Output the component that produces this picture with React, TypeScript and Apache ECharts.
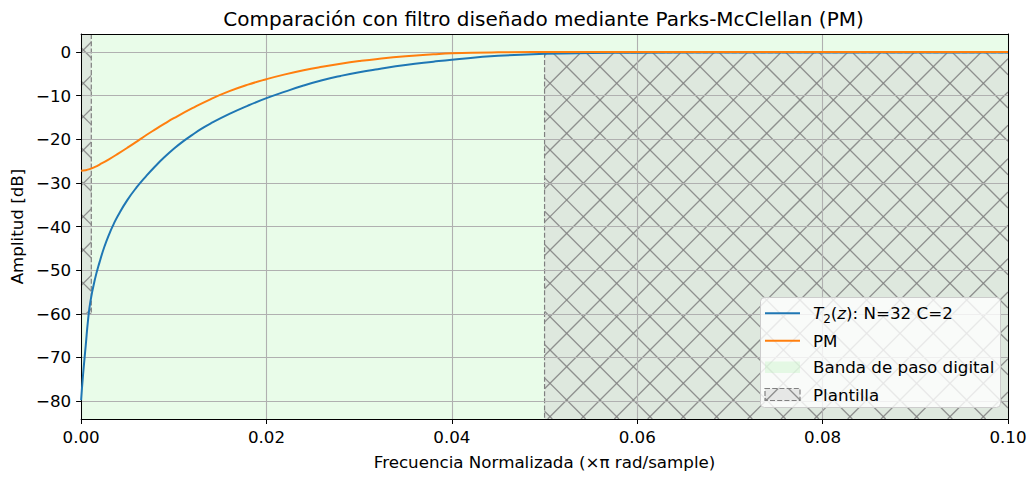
import React, { useEffect, useRef } from "react";
import * as echarts from "echarts";

// ---------- data ----------
const freqT2 = [
  0, 0.0002, 0.0005, 0.00075, 0.001, 0.0015, 0.002, 0.0025, 0.003, 0.0035, 0.004,
  0.005, 0.006, 0.007, 0.008, 0.009, 0.01, 0.011, 0.012, 0.013, 0.014, 0.016, 0.018,
  0.02, 0.022, 0.024, 0.026, 0.028, 0.03, 0.032, 0.035, 0.038, 0.04, 0.045, 0.05,
  0.055, 0.06, 0.07, 0.08, 0.09, 0.1,
];
const magT2 = [
  -79.8, -74.2, -67.2, -61.4, -57.2, -52.0, -48.1, -44.7, -41.9, -39.5, -37.4,
  -33.9, -31.0, -28.5, -26.2, -24.1, -22.2, -20.5, -19.0, -17.6, -16.35, -14.2, -12.3,
  -10.6, -9.1, -7.7, -6.5, -5.5, -4.65, -3.95, -3.0, -2.25, -1.8, -0.9, -0.45,
  -0.26, -0.18, -0.15, -0.15, -0.15, -0.15,
];
const freqPM = [
  0, 0.0005, 0.001, 0.0015, 0.002, 0.003, 0.004, 0.005, 0.006, 0.007, 0.008, 0.009,
  0.01, 0.012, 0.014, 0.016, 0.018, 0.02, 0.022, 0.024, 0.026, 0.028, 0.03, 0.032,
  0.035, 0.038, 0.04, 0.045, 0.05, 0.06, 0.07, 0.08, 0.09, 0.1,
];
const magPM = [
  -27.2, -27.1, -26.8, -26.35, -25.8, -24.6, -23.3, -21.95, -20.55, -19.1, -17.75, -16.45,
  -15.2, -12.9, -10.8, -9.0, -7.5, -6.25, -5.15, -4.2, -3.4, -2.7, -2.1, -1.6,
  -1.0, -0.55, -0.32, -0.1, -0.03, 0, 0, 0, 0, 0,
];
// Banda de paso digital: [f inicio, f fin]
const passBand = [[0, 0.1]];
// Plantilla: [f0, f1, dB inferior, dB superior]
const templateRects = [
  [0, 0.0011, -60, 10],
  [0.05, 0.1, -120, -0.2],
];
const yTicks = [-80, -70, -60, -50, -40, -30, -20, -10, 0];
const xRange = [0, 0.1];
const yRange = [-84.1, 4.1];

const FONT = "'DejaVu Sans', 'Liberation Sans', sans-serif";
const FS = 16.7;
const BLUE = "#1f77b4";
const ORANGE = "#ff7f0e";
const GREEN_FILL = "rgba(144,238,144,0.2)";
const TPL_FILL = "rgba(211,211,211,0.5)";
const HATCH = "rgba(128,128,128,0.85)";
const HATCH_STEP = 100 / 3;

function hatchSegs(x0: number, y0: number, x1: number, y1: number, s: number) {
  const segs: number[][] = [];
  // "\" lines: x - y = c
  for (let k = Math.ceil((x0 - y1) / s); k <= Math.floor((x1 - y0) / s); k++) {
    const c = k * s;
    const xa = Math.max(x0, y0 + c);
    const xb = Math.min(x1, y1 + c);
    if (xb > xa) segs.push([xa, xa - c, xb, xb - c]);
  }
  // "/" lines: x + y = c
  for (let k = Math.ceil((x0 + y0) / s); k <= Math.floor((x1 + y1) / s); k++) {
    const c = k * s;
    const xa = Math.max(x0, c - y1);
    const xb = Math.min(x1, c - y0);
    if (xb > xa) segs.push([xa, c - xa, xb, c - xb]);
  }
  return segs;
}

function hatchElements(x0: number, y0: number, x1: number, y1: number, z?: number) {
  return hatchSegs(x0, y0, x1, y1, HATCH_STEP).map((s) => {
    const el: any = {
      type: "line",
      shape: { x1: s[0], y1: s[1], x2: s[2], y2: s[3] },
      style: { stroke: HATCH, lineWidth: 1.3, fill: null },
      silent: true,
    };
    if (z != null) el.z = z;
    return el;
  });
}

function renderTemplate(params: any, api: any) {
  const cs = params.coordSys;
  const a = api.coord([api.value(0), api.value(3)]);
  const b = api.coord([api.value(1), api.value(2)]);
  const rx0 = Math.min(a[0], b[0]);
  const rx1 = Math.max(a[0], b[0]);
  const ry0 = Math.min(a[1], b[1]);
  const ry1 = Math.max(a[1], b[1]);
  const L = cs.x, R = cs.x + cs.width, T = cs.y, B = cs.y + cs.height;
  const x0 = Math.max(rx0, L), x1 = Math.min(rx1, R);
  const y0 = Math.max(ry0, T), y1 = Math.min(ry1, B);
  if (x1 <= x0 || y1 <= y0) return null;
  const children: any[] = [
    {
      type: "rect",
      shape: { x: x0, y: y0, width: x1 - x0, height: y1 - y0 },
      style: { fill: TPL_FILL },
    },
    ...hatchElements(x0, y0, x1, y1),
  ];
  const dashStyle = { stroke: "#808080", lineWidth: 1.2, lineDash: [5, 2.2], fill: null };
  if (rx0 > L + 0.5) children.push({ type: "line", shape: { x1: rx0, y1: y0, x2: rx0, y2: y1 }, style: dashStyle });
  if (rx1 < R - 0.5) children.push({ type: "line", shape: { x1: rx1, y1: y0, x2: rx1, y2: y1 }, style: dashStyle });
  if (ry0 > T + 0.5) children.push({ type: "line", shape: { x1: x0, y1: ry0, x2: x1, y2: ry0 }, style: dashStyle });
  if (ry1 < B - 0.5) children.push({ type: "line", shape: { x1: x0, y1: ry1, x2: x1, y2: ry1 }, style: dashStyle });
  return { type: "group", children };
}

function renderBand(params: any, api: any) {
  const cs = params.coordSys;
  const a = api.coord([api.value(0), 0]);
  const b = api.coord([api.value(1), 0]);
  const x0 = Math.max(Math.min(a[0], b[0]), cs.x);
  const x1 = Math.min(Math.max(a[0], b[0]), cs.x + cs.width);
  return {
    type: "rect",
    shape: { x: x0, y: cs.y, width: x1 - x0, height: cs.height },
    style: { fill: GREEN_FILL },
  };
}

function fmtY(v: number) {
  return v < 0 ? "\u2212" + Math.abs(v) : String(v);
}

function buildLegend() {
  const Z = 100;
  const bx = 760.5, by = 297.5, bw = 240, bh = 110;
  const lx0 = 765, lx1 = 800, tx = 813;
  const rows = [313.3, 340.7, 367.3, 394.5];
  const txt = (y: number, text: string) => ({
    type: "text",
    z: Z + 2,
    x: tx,
    y,
    style: { text, font: `${FS}px ${FONT}`, fill: "#000", verticalAlign: "middle" },
  });
  const els: any[] = [
    {
      type: "rect",
      z: Z,
      shape: { x: bx, y: by, width: bw, height: bh, r: 4 },
      style: { fill: "rgba(255,255,255,0.8)", stroke: "#cccccc", lineWidth: 1 },
    },
    { type: "line", z: Z + 1, shape: { x1: lx0, y1: rows[0], x2: lx1, y2: rows[0] }, style: { stroke: BLUE, lineWidth: 2 } },
    { type: "line", z: Z + 1, shape: { x1: lx0, y1: rows[1], x2: lx1, y2: rows[1] }, style: { stroke: ORANGE, lineWidth: 2 } },
    {
      type: "rect",
      z: Z + 1,
      shape: { x: lx0, y: rows[2] - 5.8, width: lx1 - lx0, height: 11.6 },
      style: { fill: GREEN_FILL },
    },
    {
      type: "rect",
      z: Z + 1,
      shape: { x: lx0, y: rows[3] - 6, width: lx1 - lx0, height: 12 },
      style: { fill: TPL_FILL },
    },
    ...hatchElements(lx0, rows[3] - 6, lx1, rows[3] + 6, Z + 2),
    {
      type: "rect",
      z: Z + 3,
      shape: { x: lx0, y: rows[3] - 6, width: lx1 - lx0, height: 12 },
      style: { fill: null, stroke: "#808080", lineWidth: 1.2, lineDash: [5, 2.2] },
    },
    {
      type: "text",
      z: Z + 2,
      x: tx,
      y: rows[0],
      style: {
        text: "{it|T}{sub|2}({it|z}): N=32 C=2",
        font: `${FS}px ${FONT}`,
        fill: "#000",
        verticalAlign: "middle",
        rich: {
          it: { fontStyle: "italic", fontSize: FS, fontFamily: FONT, fill: "#000", lineHeight: 24, verticalAlign: "middle" },
          sub: { fontSize: 12, fontFamily: FONT, fill: "#000", lineHeight: 12, verticalAlign: "bottom" },
        },
      },
    },
    txt(rows[1], "PM"),
    txt(rows[2], "Banda de paso digital"),
    txt(rows[3], "Plantilla"),
  ];
  return els;
}

export default function App() {
  const ref = useRef<HTMLDivElement>(null);
  useEffect(() => {
    if (!ref.current) return;
    const chart = echarts.init(ref.current, undefined, { renderer: "svg" });
    const axisText = { fontFamily: FONT, fontSize: FS, color: "#000" };
    const option: any = {
      animation: false,
      backgroundColor: "#fff",
      grid: { left: 79, right: 28, top: 34, bottom: 61, containLabel: false },
      xAxis: [
        {
          type: "value",
          min: xRange[0],
          max: xRange[1],
          interval: 0.02,
          z: 2,
          name: "Frecuencia Normalizada (\u00d7\u03c0 rad/sample)",
          nameLocation: "middle",
          nameGap: 34,
          nameTextStyle: axisText,
          axisLine: { show: true, onZero: false, lineStyle: { color: "#000", width: 1 } },
          axisTick: { show: true, inside: false, length: 5, lineStyle: { color: "#000", width: 1 } },
          axisLabel: { ...axisText, margin: 9, formatter: (v: number) => v.toFixed(2) },
          splitLine: { show: true, lineStyle: { color: "#b0b0b0", width: 1.1 } },
        },
        {
          type: "value",
          position: "top",
          min: xRange[0],
          max: xRange[1],
          z: 5,
          axisLine: { show: true, onZero: false, lineStyle: { color: "#000", width: 1 } },
          axisTick: { show: false },
          axisLabel: { show: false },
          splitLine: { show: false },
        },
      ],
      yAxis: [
        {
          type: "value",
          min: yRange[0],
          max: yRange[1],
          z: 2,
          name: "Amplitud [dB]",
          nameLocation: "middle",
          nameGap: 52,
          nameTextStyle: axisText,
          axisLine: { show: true, onZero: false, lineStyle: { color: "#000", width: 1 } },
          axisTick: { show: true, inside: false, length: 5, customValues: yTicks, lineStyle: { color: "#000", width: 1 } },
          axisLabel: { ...axisText, margin: 10, customValues: yTicks, formatter: fmtY },
          splitLine: { show: true, lineStyle: { color: "#b0b0b0", width: 1.1 } },
        },
        {
          type: "value",
          position: "right",
          min: yRange[0],
          max: yRange[1],
          z: 5,
          axisLine: { show: true, onZero: false, lineStyle: { color: "#000", width: 1 } },
          axisTick: { show: false },
          axisLabel: { show: false },
          splitLine: { show: false },
        },
      ],
      series: [
        {
          name: "Banda de paso digital",
          type: "custom",
          z: 0,
          silent: true,
          renderItem: renderBand,
          encode: { x: [0, 1] },
          data: passBand,
        },
        {
          name: "Plantilla",
          type: "custom",
          z: 1,
          silent: true,
          renderItem: renderTemplate,
          encode: { x: [0, 1], y: [2, 3] },
          data: templateRects,
        },
        {
          name: "T2(z): N=32 C=2",
          type: "line",
          z: 3,
          showSymbol: false,
          smooth: 0.5,
          lineStyle: { color: BLUE, width: 2 },
          itemStyle: { color: BLUE },
          data: freqT2.map((f, i) => [f, magT2[i]]),
        },
        {
          name: "PM",
          type: "line",
          z: 3,
          showSymbol: false,
          smooth: 0.5,
          lineStyle: { color: ORANGE, width: 2 },
          itemStyle: { color: ORANGE },
          data: freqPM.map((f, i) => [f, magPM[i]]),
        },
      ],
      graphic: [
        {
          type: "text",
          x: 543.5,
          y: 19,
          z: 100,
          style: {
            text: "Comparación con filtro diseñado mediante Parks-McClellan (PM)",
            font: `20px ${FONT}`,
            fill: "#000",
            align: "center",
            verticalAlign: "middle",
          },
        },
        ...buildLegend(),
      ],
    };
    chart.setOption(option);
    return () => chart.dispose();
  }, []);
  return (
    <div
      ref={ref}
      style={{ position: "fixed", left: 0, top: 0, width: 1036, height: 480 }}
    />
  );
}
